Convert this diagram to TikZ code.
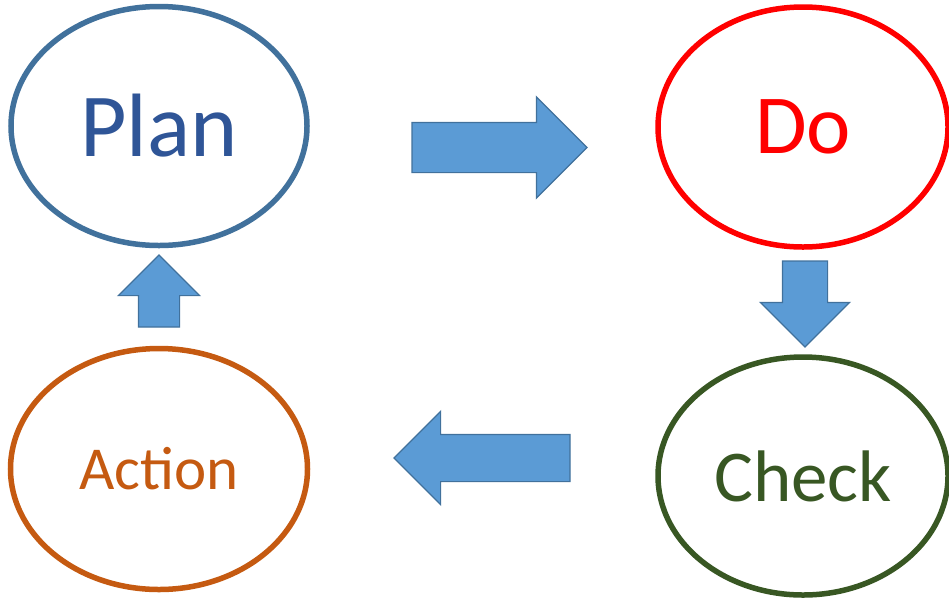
\documentclass[tikz,border=0pt]{standalone}
\usepackage{fontspec}
\setmainfont{Carlito}
\usepackage{xcolor}
\usepackage{tikz}
\usetikzlibrary{shapes.geometric,shapes.arrows}
\definecolor{planblue}{HTML}{41719C}
\definecolor{plantext}{HTML}{2F5597}
\definecolor{dored}{HTML}{FF0000}
\definecolor{checkgreen}{HTML}{385723}
\definecolor{actionorange}{HTML}{C55A11}
\definecolor{arrowfill}{HTML}{5B9BD5}
\definecolor{arrowline}{HTML}{41719C}

\begin{document}
\begin{tikzpicture}[
  x=1pt,y=-1pt,
  every node/.style={inner sep=0pt,outer sep=0pt},
  stage/.style={ellipse,draw,line width=5.5pt,fill=white},
  blockarrow/.style={single arrow,draw=arrowline,fill=arrowfill,line width=1.2pt,single arrow tip angle=90,anchor=tail}
]
  \useasboundingbox (0,0) rectangle (949,598);
  \node[stage,draw=planblue,text=plantext,minimum width=296pt,minimum height=239pt,font=\fontsize{90}{100}\selectfont] (plan) at (159,126) {Plan};
  \node[stage,draw=dored,text=dored,minimum width=290pt,minimum height=240pt,font=\fontsize{84}{94}\selectfont] (do) at (803,127) {Do};
  \node[stage,draw=checkgreen,text=checkgreen,minimum width=290pt,minimum height=238pt,font=\fontsize{73}{83}\selectfont] (check) at (803,476) {Check};
  \node[stage,draw=actionorange,text=actionorange,minimum width=297pt,minimum height=241pt,font=\fontsize{61}{71}\selectfont] (action) at (159,469) {Action};
  \node[blockarrow,inner sep=24.5pt,minimum height=175pt,single arrow head extend=25.5pt] (plantodo) at (412,147.5) {};
  \node[blockarrow,shape border rotate=270,inner sep=22pt,minimum height=86pt,single arrow head extend=22pt] (dotocheck) at (805,261) {};
  \node[blockarrow,shape border rotate=180,inner sep=23pt,minimum height=176pt,single arrow head extend=23pt] (checktoaction) at (570,458) {};
  \node[blockarrow,shape border rotate=90,inner sep=20pt,minimum height=72pt,single arrow head extend=20pt] (actiontoplan) at (159,327) {};
\end{tikzpicture}
\end{document}
